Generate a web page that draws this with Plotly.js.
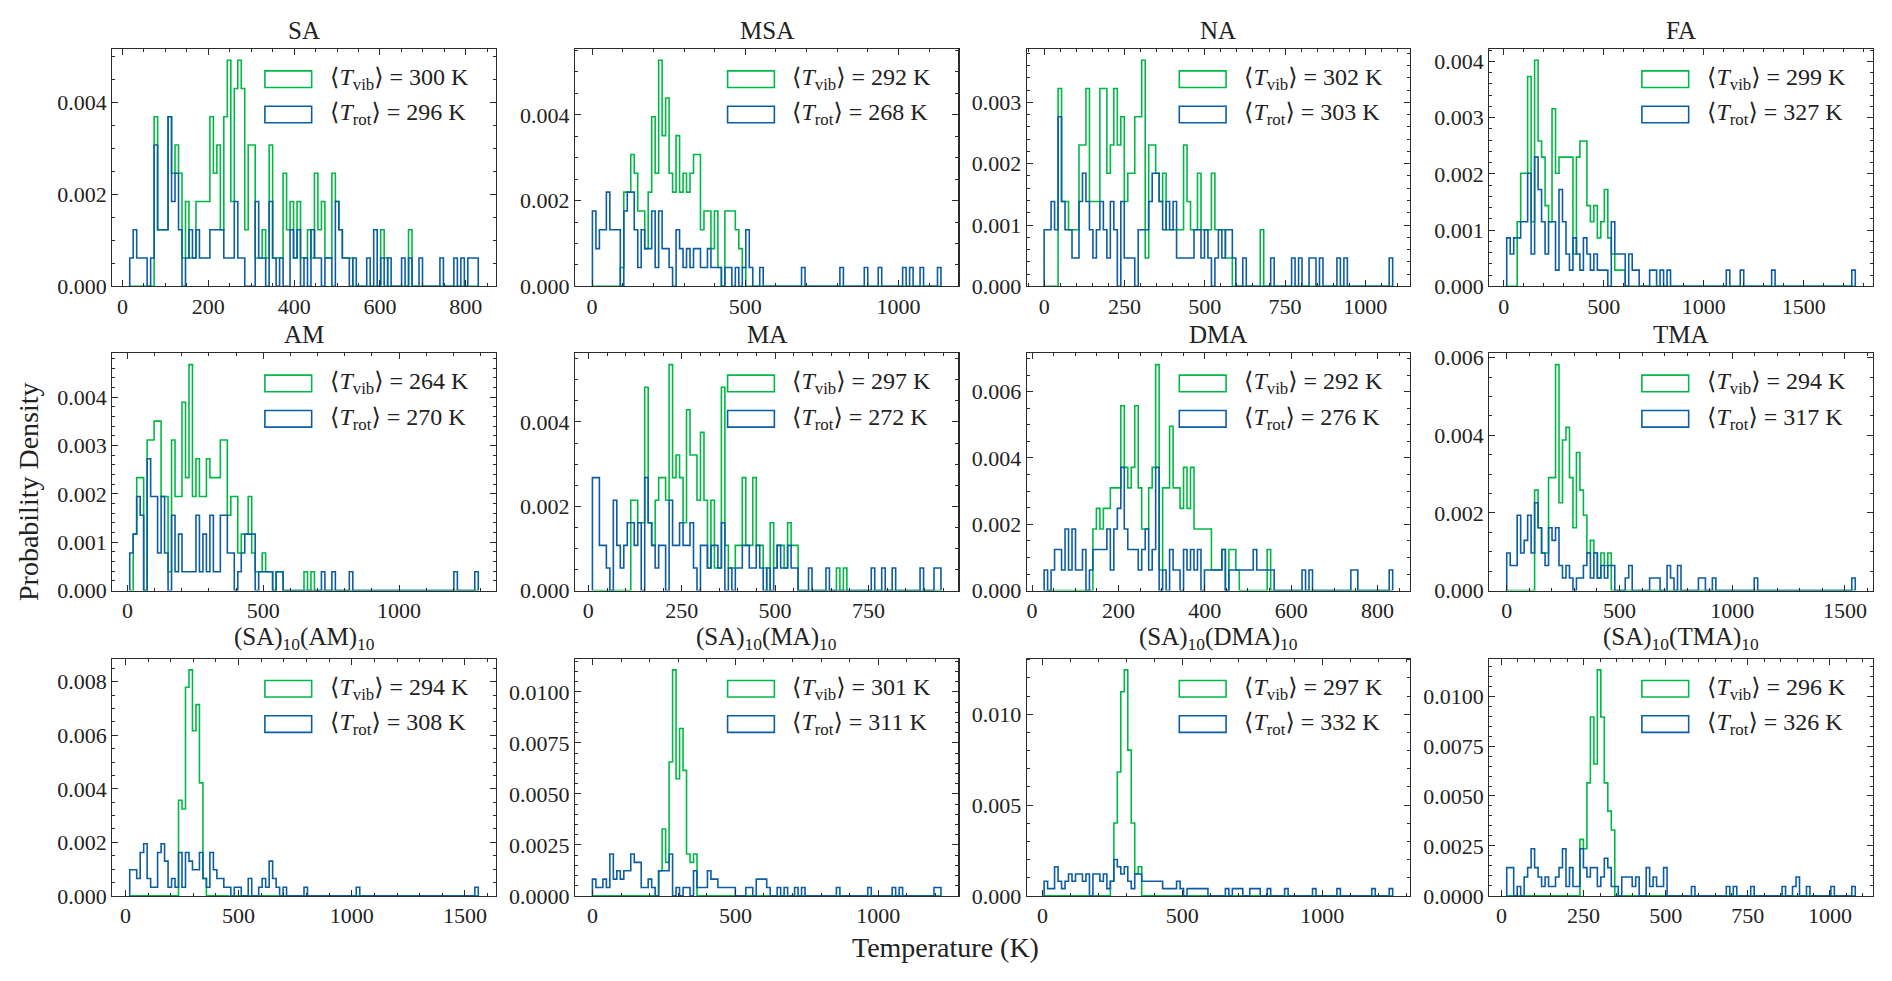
<!DOCTYPE html>
<html><head><meta charset="utf-8">
<script src="https://cdn.plot.ly/plotly-3.0.1.min.js"></script>
<style>html,body{margin:0;padding:0;background:#fff;}#chart{width:1892px;height:981px;}</style>
</head><body><div id="chart"></div>
<script>
// ---------------- data ----------------
const N_SAMPLES = 200;   // samples per histogram
const N_BINS = 100;      // bins per histogram
const panelTitles = ['SA','MSA','NA','FA','AM','MA','DMA','TMA',
  '(SA)<sub>10</sub>(AM)<sub>10</sub>','(SA)<sub>10</sub>(MA)<sub>10</sub>',
  '(SA)<sub>10</sub>(DMA)<sub>10</sub>','(SA)<sub>10</sub>(TMA)<sub>10</sub>'];
const binLow  = [17, 1, 0, 15, 8, 11, 28, 0, 19, 0, 6, 16];
const binHigh = [829, 1139, 1085, 1757, 1292, 944, 835, 1546, 1559, 1219, 1252, 1077];
const meanVib = [300, 292, 302, 299, 264, 297, 292, 294, 294, 301, 297, 296];
const meanRot = [296, 268, 303, 327, 270, 272, 276, 317, 308, 311, 332, 326];
const xTickStep  = [200, 500, 250, 500, 500, 250, 200, 500, 500, 500, 500, 250];
const xMinorStep = [50, 100, 50, 100, 100, 50, 50, 100, 100, 100, 100, 50];
const yTickStep  = [0.002, 0.002, 0.001, 0.001, 0.001, 0.002, 0.002, 0.002, 0.002, 0.0025, 0.005, 0.0025];
const yMinorStep = [0.0005, 0.0005, 0.0002, 0.0002, 0.0002, 0.0005, 0.0005, 0.0005, 0.0005, 0.0005, 0.001, 0.0005];
const yDecimals  = [3, 3, 3, 3, 3, 3, 3, 3, 3, 4, 3, 4];

// bin counts (vib = green, rot = blue); trailing zeros omitted
const vib_SA = [0,0,0,0,0,0,0,6,2,2, 2,6,4,5,4,1,3,1,1,3, 3,3,3,6,4,5,2,6,8,3, 7,8,7,2,5,5,1,1,2,1,
  5,1,1,1,4,2,3,1,3,1, 1,2,1,4,2,3,1,1,4,3, 2,1,1,1,0,0,0,0,0,0, 0,0,2,1,0,0,0,0,0,0, 2];
const rot_SA = [1,2,1,1,1,0,1,5,2,2, 2,6,3,4,2,0,1,2,1,2, 1,1,1,2,2,2,2,1,1,1, 3,1,1,0,0,0,3,1,1,0,
  3,1,0,1,0,0,2,1,2,0, 1,0,2,1,1,0,1,1,0,3, 2,1,1,0,1,0,0,0,1,0, 2,0,1,0,1,0,0,0,1,0,
  1,0,0,1,0,0,0,0,0,1, 0,0,0,1,0,1,0,1,1,1];
const vib_MSA = [0,0,0,0,0,0,0,0,1,5, 5,7,6,4,4,2,5,9,6,12, 8,10,6,5,8,5,6,5,6,7, 7,3,4,4,2,4,1,0,4,4, 4,3,2,1];
const rot_MSA = [4,2,3,3,5,3,3,3,0,4, 5,5,3,1,3,2,2,4,1,4, 2,2,1,0,3,2,1,2,1,2, 2,1,1,2,1,1,1,0,1,1,
  0,1,0,1,3,1,0,0,1,0, 0,0,0,0,0,0,0,0,0,0, 1,0,0,0,0,0,0,0,0,0, 0,1,0,0,0,0,0,0,1,0,
  0,0,1,0,0,0,0,0,0,1, 0,1,0,0,1,0,0,0,0,1];
const vib_NA = [0,0,0,0,7,3,3,2,2,2, 5,5,7,3,3,3,7,7,4,5, 7,5,6,3,4,4,6,6,8,1, 5,5,4,3,4,2,2,2,2,2,
  5,3,2,2,4,2,2,2,4,2, 2,2,1,1,0,0,0,0,0,0, 0,0,2];
const rot_NA = [2,2,3,2,6,3,2,2,1,1, 3,4,3,2,1,2,3,2,1,3, 2,0,3,1,1,1,0,2,2,2, 3,4,4,3,2,3,2,3,1,1,
  1,1,1,2,2,1,2,1,0,1, 2,1,2,2,1,0,0,1,0,0, 0,0,0,0,0,1,0,0,0,0, 0,1,0,1,0,0,1,1,0,1,
  0,0,0,0,1,0,1,0,0,0, 0,0,0,0,0,0,0,0,0,1];
const vib_FA = [0,0,0,4,7,7,13,4,14,9, 8,5,4,11,7,8,8,8,8,2, 8,9,9,5,4,5,3,4,6,3, 2,1,1,1];
const rot_FA = [3,2,3,3,4,4,7,2,8,6, 4,2,4,4,1,6,4,2,1,3, 2,1,3,2,1,2,1,1,1,0, 4,2,2,2,0,2,1,1,0,0,
  0,1,1,0,1,0,1,0,0,0, 0,0,0,0,0,0,0,0,0,0, 0,0,0,1,0,0,0,1,0,0, 0,0,0,0,0,0,1,0,0,0,
  0,0,0,0,0,0,0,0,0,0, 0,0,0,0,0,0,0,0,0,1];
const vib_AM = [0,3,6,6,0,8,8,9,9,5, 5,1,8,5,5,10,6,12,5,7, 5,5,7,6,6,6,8,8,4,5, 5,2,3,3,5,2,1,1,2,1,
  1,0,1,1,0,0,0,0,0,0, 1,0,1];
const rot_AM = [2,3,5,4,0,7,5,5,2,5, 2,0,4,1,3,1,1,1,1,4, 1,3,1,4,1,1,4,4,2,2, 0,1,2,3,3,3,0,1,1,1,
  1,0,1,1,0,0,0,0,0,0, 0,0,0,0,0,1,0,0,1,0, 0,0,0,1,0,0,0,0,0,0, 0,0,0,0,0,0,0,0,0,0,
  0,0,0,0,0,0,0,0,0,0, 0,0,0,1,0,0,0,0,0,1];
const vib_MA = [0,0,0,0,0,0,0,0,0,0, 0,4,4,3,3,9,3,2,4,5, 5,4,10,5,6,5,3,8,6,6, 4,7,4,1,4,1,1,9,2,1,
  1,2,2,5,2,2,5,2,2,1, 0,3,1,2,2,1,3,2,2,0, 0,0,0,0,0,0,0,0,0,0, 1,0,1];
const rot_MA = [5,5,2,2,1,0,4,2,1,2, 3,3,2,3,0,5,3,2,1,2, 2,0,4,2,2,3,2,2,3,1, 0,2,2,1,2,2,1,3,0,1,
  0,1,1,2,2,1,1,2,1,0, 1,0,1,2,1,1,2,1,1,0, 0,0,1,0,0,0,0,1,0,0, 0,0,0,0,0,0,0,0,0,0,
  1,0,0,1,0,0,1,0,0,0, 0,0,0,0,1,0,0,0,1,1];
const vib_DMA = [0,0,0,0,0,0,0,0,0,0, 0,0,0,0,3,4,3,4,4,5, 5,5,9,6,5,6,9,5,3,3, 5,6,11,1,5,5,8,5,5,4,
  6,4,6,3,3,3,3,3,1,1, 1,2,0,2,2,1,0,0,0,0, 0,0,0,0,2];
const rot_DMA = [1,0,1,2,2,1,3,1,3,1, 1,2,0,1,2,2,2,2,3,1, 3,4,6,3,2,2,2,1,2,3, 1,2,6,0,1,0,2,1,1,0,
  2,1,2,1,2,0,1,1,1,1, 1,2,0,1,1,1,1,1,1,1, 2,1,1,1,1,1,0,0,0,0, 0,0,0,0,1,0,1,0,0,0,
  0,0,0,0,0,0,0,0,1,1, 0,0,0,0,0,0,0,0,0,1];
const vib_TMA = [0,0,0,0,0,0,0,0,8,5, 3,3,9,9,18,7,12,13,9,5, 11,8,6,3,4,3,1,3,2,3];
const rot_TMA = [3,2,2,6,3,4,6,3,7,5, 3,2,5,4,5,2,1,2,1,0, 1,1,2,3,1,3,1,2,1,2, 2,0,0,0,1,2,0,0,0,0,
  0,1,1,1,0,0,2,1,0,2, 0,0,0,0,0,1,1,0,0,1, 0,0,0,0,0,0,0,0,0,0, 0,1,0,0,0,0,0,0,0,0,
  0,0,0,0,0,0,0,0,0,0, 0,0,0,0,0,0,0,0,0,1];
const vib_SA10AM10 = [0,0,0,0,0,0,0,0,0,0, 0,0,0,0,11,10,24,26,19,22, 13,2];
const rot_SA10AM10 = [3,3,2,5,6,2,1,1,5,6, 4,1,2,1,5,1,5,4,3,3, 5,2,1,5,3,2,2,1,1,0, 1,1,0,0,2,0,0,1,2,1,
  4,2,1,0,1,0,0,0,0,0, 1,0,0,0,0,0,0,0,0,0, 0,0,0,0,0,1,0,0,0,0, 0,0,0,0,0,0,0,0,0,0,
  0,0,0,0,0,0,0,0,0,0, 0,0,0,0,0,0,0,0,0,1];
const vib_SA10MA10 = [0,0,0,0,0,0,0,0,0,0, 0,0,0,0,0,0,0,0,0,3, 8,4,16,27,14,20,15,5,4,5];
const rot_SA10MA10 = [2,1,1,2,1,5,2,3,2,3, 3,5,4,4,1,1,2,1,0,3, 3,3,5,0,1,0,1,1,0,3, 1,1,1,3,2,2,1,1,1,1,
  1,0,0,0,1,1,0,2,2,2, 1,0,0,1,0,1,0,0,1,0, 1,0,0,0,0,0,0,0,0,0, 1,0,0,0,0,0,0,0,0,1,
  0,0,0,0,0,0,1,0,1,0, 0,0,0,0,0,0,0,0,1,1];
const vib_SA10DMA10 = [0,0,0,0,0,0,0,0,0,0, 0,0,0,0,0,0,0,0,0,2, 10,17,28,31,20,10,3,4];
const rot_SA10DMA10 = [2,1,1,4,2,1,2,3,2,3, 3,2,3,0,3,3,2,3,1,2, 5,4,3,4,2,1,3,3,2,2, 2,2,2,2,1,1,1,1,2,1,
  0,1,1,1,1,1,1,0,0,0, 0,0,1,0,1,1,1,0,0,1, 1,1,0,0,1,0,0,0,0,1, 0,0,0,0,0,0,0,1,0,0,
  0,0,0,0,1,0,0,0,0,0, 0,0,0,0,1,0,0,0,0,1];
const vib_SA10TMA10 = [0,0,0,0,0,0,0,0,0,0, 0,0,0,0,0,0,0,0,0,0, 0,6,5,12,19,14,24,19,12,9, 7];
const rot_SA10TMA10 = [3,3,0,1,0,2,3,5,3,2, 1,2,1,1,2,3,5,1,3,1, 1,5,3,2,3,3,1,2,4,3, 1,1,0,2,2,2,1,2,0,0,
  3,1,2,1,1,3,0,0,0,0, 0,0,0,1,0,0,0,0,0,0, 0,0,0,1,0,1,0,0,0,0, 1,0,0,0,0,0,0,0,0,1,
  0,0,1,2,0,0,1,0,0,0, 0,0,0,1,0,0,0,0,0,1];

const vibCounts = [vib_SA, vib_MSA, vib_NA, vib_FA, vib_AM, vib_MA, vib_DMA, vib_TMA,
  vib_SA10AM10, vib_SA10MA10, vib_SA10DMA10, vib_SA10TMA10];
const rotCounts = [rot_SA, rot_MSA, rot_NA, rot_FA, rot_AM, rot_MA, rot_DMA, rot_TMA,
  rot_SA10AM10, rot_SA10MA10, rot_SA10DMA10, rot_SA10TMA10];

// ---------------- style / geometry ----------------
const W = 1892, H = 981;
const colLeft = [112.3, 575, 1026.7, 1489.3];
const rowTop = [49, 353.3, 658.6];
const axW = 383.4, axH = 237.3;
const GREEN = '#00B945', BLUE = '#0C5DA5', FRAME = '#2b2b2b';
const FONT = '"Liberation Serif", "DejaVu Serif", serif';

function stepXY(lo, hi, counts) {
  const w = (hi - lo) / N_BINS;
  const xs = [lo], ys = [0];
  for (let i = 0; i < N_BINS; i++) {
    const c = i < counts.length ? counts[i] : 0;
    xs.push(lo + i * w);
    ys.push(c / (N_SAMPLES * w));
  }
  xs.push(hi); ys.push(0);
  return {xs, ys};
}

const traces = [], shapes = [], annotations = [];
const layout = {
  width: W, height: H, margin: {l: 0, r: 0, t: 0, b: 0},
  paper_bgcolor: '#fff', plot_bgcolor: '#fff', showlegend: false,
  font: {family: FONT, color: '#222', size: 22}
};

for (let p = 0; p < 12; p++) {
  const k = p + 1, sfx = k === 1 ? '' : String(k);
  const col = p % 4, row = Math.floor(p / 4);
  const left = colLeft[col], top = rowTop[row];
  const lo = binLow[p], hi = binHigh[p], R = hi - lo;
  const g = stepXY(lo, hi, vibCounts[p]);
  const b = stepXY(lo, hi, rotCounts[p]);
  const ymax = Math.max(...g.ys, ...b.ys) * 1.05;
  traces.push({type: 'scatter', mode: 'lines', x: g.xs, y: g.ys, xaxis: 'x' + sfx, yaxis: 'y' + sfx,
    line: {shape: 'hv', color: GREEN, width: 1.6}, hoverinfo: 'skip'});
  traces.push({type: 'scatter', mode: 'lines', x: b.xs, y: b.ys, xaxis: 'x' + sfx, yaxis: 'y' + sfx,
    line: {shape: 'hv', color: BLUE, width: 1.6}, hoverinfo: 'skip'});
  const common = {ticks: 'inside', ticklen: 6, tickwidth: 1, tickcolor: FRAME, showline: true,
    linecolor: FRAME, linewidth: 1.1, mirror: 'allticks', showgrid: false, zeroline: false,
    tickfont: {family: FONT, size: 22, color: '#222'}, fixedrange: true, tickmode: 'linear', tick0: 0};
  layout['xaxis' + sfx] = Object.assign({}, common, {
    domain: [left / W, (left + axW) / W], anchor: 'y' + sfx,
    range: [lo - 0.05 * R, hi + 0.05 * R], dtick: xTickStep[p], tickformat: 'd',
    minor: {dtick: xMinorStep[p], tick0: 0, ticks: 'inside', ticklen: 3, tickwidth: 1, tickcolor: FRAME, showgrid: false}
  });
  layout['yaxis' + sfx] = Object.assign({}, common, {
    domain: [1 - (top + axH) / H, 1 - top / H], anchor: 'x' + sfx,
    range: [0, ymax], dtick: yTickStep[p], tickformat: '.' + yDecimals[p] + 'f',
    minor: {dtick: yMinorStep[p], tick0: 0, ticks: 'inside', ticklen: 3, tickwidth: 1, tickcolor: FRAME, showgrid: false}
  });
  // subplot title
  annotations.push({text: panelTitles[p], xref: 'paper', yref: 'paper',
    x: (left + axW / 2) / W, y: 1 - top / H, xanchor: 'center', yanchor: 'bottom', yshift: 3,
    showarrow: false, font: {family: FONT, size: 25, color: '#222'}});
  // legend (rectangle outlines + labels)
  const xd = 'x' + sfx + ' domain', yd = 'y' + sfx + ' domain';
  shapes.push({type: 'rect', xref: xd, yref: yd, x0: 0.398, x1: 0.52, y0: 0.838, y1: 0.908,
    line: {color: GREEN, width: 1.6}, fillcolor: 'rgba(0,0,0,0)'});
  shapes.push({type: 'rect', xref: xd, yref: yd, x0: 0.398, x1: 0.52, y0: 0.689, y1: 0.759,
    line: {color: BLUE, width: 1.6}, fillcolor: 'rgba(0,0,0,0)'});
  annotations.push({text: '\u27E8<i>T</i><sub>vib</sub>\u27E9 = ' + meanVib[p] + ' K', xref: xd, yref: yd,
    x: 0.562, y: 0.873, xanchor: 'left', yanchor: 'middle', showarrow: false,
    font: {family: FONT, size: 24, color: '#222'}});
  annotations.push({text: '\u27E8<i>T</i><sub>rot</sub>\u27E9 = ' + meanRot[p] + ' K', xref: xd, yref: yd,
    x: 0.562, y: 0.724, xanchor: 'left', yanchor: 'middle', showarrow: false,
    font: {family: FONT, size: 24, color: '#222'}});
}

annotations.push({text: 'Temperature (K)', xref: 'paper', yref: 'paper', x: 945 / W, y: 1 - 947 / H,
  xanchor: 'center', yanchor: 'middle', showarrow: false, font: {family: FONT, size: 28, color: '#222'}});
annotations.push({text: 'Probability Density', xref: 'paper', yref: 'paper', x: 29 / W, y: 1 - 492 / H,
  xanchor: 'center', yanchor: 'middle', textangle: -90, showarrow: false, font: {family: FONT, size: 28, color: '#222'}});

layout.shapes = shapes;
layout.annotations = annotations;
Plotly.newPlot('chart', traces, layout, {staticPlot: true, displayModeBar: false});
</script></body></html>
